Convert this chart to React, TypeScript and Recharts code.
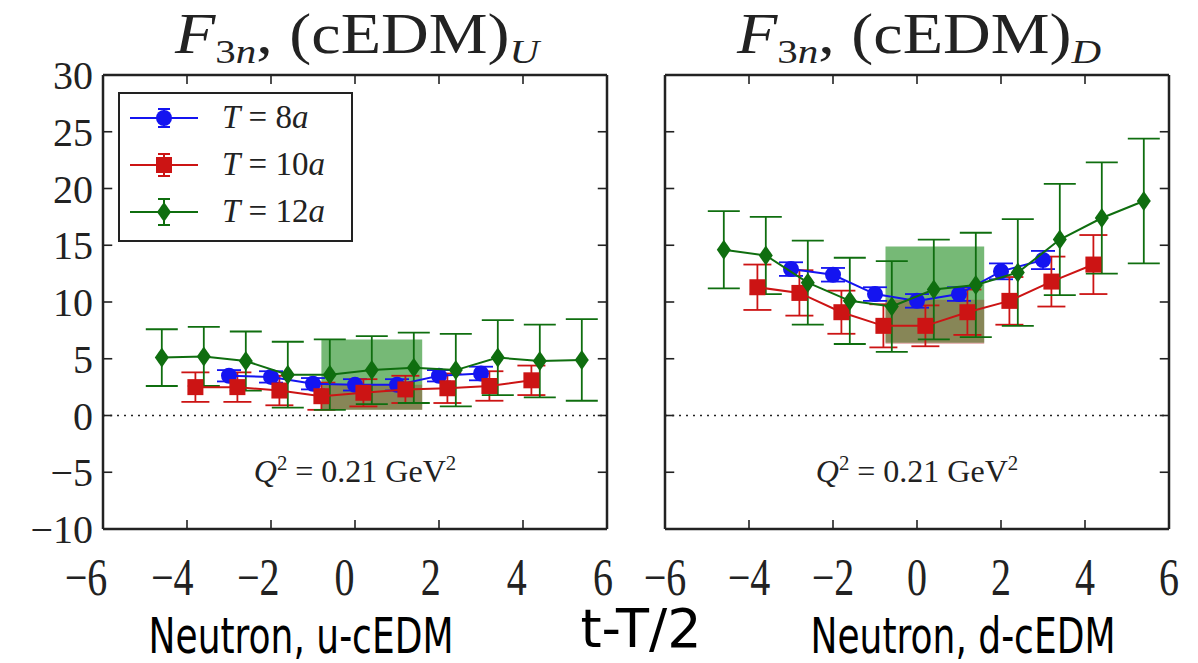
import React from 'react';
import {
  ComposedChart,
  Scatter,
  ErrorBar,
  XAxis,
  YAxis,
  ReferenceArea,
  ReferenceLine,
  Legend,
} from 'recharts';

const SERIF = '"Liberation Serif", "DejaVu Serif", serif';
const SANS = '"DejaVu Sans", sans-serif';
const INK = '#222';

const X_TICKS = [-6, -4, -2, 0, 2, 4, 6];
const Y_TICKS = [-10, -5, 0, 5, 10, 15, 20, 25, 30];

const LEGEND_T = ['8', '10', '12'];
const BLUE = '#1414f0';
const RED = '#cc1414';
const GREEN = '#0f6e0f';

// t - T/2 (T=10a and T=12a points are shifted by 0.2 / 0.4 in the plot)
const T8_X = [-3, -2, -1, 0, 1, 2, 3];
const T10_X = [-3.8, -2.8, -1.8, -0.8, 0.2, 1.2, 2.2, 3.2, 4.2];
const T12_X = [-4.6, -3.6, -2.6, -1.6, -0.6, 0.4, 1.4, 2.4, 3.4, 4.4, 5.4];

// Neutron, u-cEDM
const U_T8 = [3.5, 3.4, 2.8, 2.7, 2.7, 3.5, 3.7];
const U_T8_ERR = [0.5, 0.5, 0.5, 0.5, 0.5, 0.5, 0.6];
const U_T10 = [2.5, 2.5, 2.2, 1.7, 2.0, 2.3, 2.4, 2.6, 3.1];
const U_T10_ERR = [1.3, 1.3, 1.3, 1.2, 1.2, 1.2, 1.3, 1.3, 1.3];
const U_T12 = [5.1, 5.2, 4.8, 3.6, 3.6, 4.0, 4.2, 4.0, 5.1, 4.8, 4.9];
const U_T12_ERR = [2.5, 2.6, 2.6, 2.9, 3.1, 3.0, 3.1, 3.2, 3.3, 3.2, 3.6];
// fit bands: [x1, x2, y1, y2]
const U_BAND_T12 = [-0.8, 1.6, 0.5, 6.7];
const U_BAND_T10 = [-0.8, 1.6, 0.5, 2.7];

// Neutron, d-cEDM
const D_T8 = [12.9, 12.4, 10.7, 10.1, 10.7, 12.7, 13.7];
const D_T8_ERR = [0.6, 0.6, 0.6, 0.6, 0.6, 0.7, 0.8];
const D_T10 = [11.3, 10.8, 9.1, 7.9, 7.9, 9.1, 10.1, 11.8, 13.3];
const D_T10_ERR = [2.0, 2.0, 1.9, 1.9, 1.8, 2.0, 2.1, 2.2, 2.6];
const D_T12 = [14.6, 14.1, 11.7, 10.1, 9.6, 11.1, 11.5, 12.6, 15.5, 17.4, 18.9];
const D_T12_ERR = [3.4, 3.4, 3.7, 3.8, 4.0, 4.4, 4.6, 4.7, 4.9, 4.9, 5.5];
const D_BAND_T12 = [-0.75, 1.6, 6.4, 14.9];
const D_BAND_T10 = [-0.75, 1.6, 6.3, 10.2];

const X_MIN = -6;
const X_MAX = 6;
const Y_MIN = -10;
const Y_MAX = 30;
// inward tick length in data units (about 9px)
const XT_LEN = 0.8;
const YT_LEN = 0.22;

const rows = (xs: number[], ys: number[], es: number[]) =>
  xs.map((x, i) => ({ x, y: ys[i], err: es[i] }));

const fmt = (v: number) => (v < 0 ? `\u2212${-v}` : `${v}`);

const Marker = ({ kind, cx, cy, color }: any) => {
  if (kind === 'circle') return <circle cx={cx} cy={cy} r={8} fill={color} />;
  if (kind === 'square') return <rect x={cx - 8} y={cy - 8} width={16} height={16} fill={color} />;
  return (
    <polygon
      points={`${cx},${cy - 10} ${cx + 7},${cy} ${cx},${cy + 10} ${cx - 7},${cy}`}
      fill={color}
    />
  );
};

const BottomTick = (props: any) => {
  const { x, y, payload, shift } = props;
  const v = payload.value;
  const dx = shift ? -17 + ((v + 6) * 13) / 12 : 0;
  return (
    <g transform={`translate(${x + dx},${y})`}>
      <text transform="scale(1,1.3)" x={0} y={51} textAnchor="middle" fontFamily={SERIF} fontSize={40} fill={INK}>
        {fmt(v)}
      </text>
    </g>
  );
};

const LeftTick = (props: any) => {
  const { x, y, payload, labels } = props;
  if (!labels) return <g />;
  return (
    <text x={x - 10} y={y} dy="0.35em" textAnchor="end" fontFamily={SERIF} fontSize={40} fill={INK}>
      {fmt(payload.value)}
    </text>
  );
};

const LegendBox = () => {
  const items = [
    { kind: 'circle', color: BLUE, err: 9 },
    { kind: 'square', color: RED, err: 11 },
    { kind: 'diamond', color: GREEN, err: 13 },
  ];
  return (
    <div
      style={{
        boxSizing: 'border-box',
        width: 235,
        height: 150,
        border: `2.5px solid ${INK}`,
        background: '#fff',
      }}
    >
      {items.map((it, i) => (
        <div key={i} style={{ height: 47, display: 'flex', alignItems: 'center', paddingLeft: 10 }}>
          <svg width={68} height={40}>
            <line x1={0} x2={68} y1={20} y2={20} stroke={it.color} strokeWidth={2} />
            <line x1={34} x2={34} y1={20 - it.err} y2={20 + it.err} stroke={it.color} strokeWidth={2} />
            <line x1={28} x2={40} y1={20 - it.err} y2={20 - it.err} stroke={it.color} strokeWidth={2} />
            <line x1={28} x2={40} y1={20 + it.err} y2={20 + it.err} stroke={it.color} strokeWidth={2} />
            <Marker kind={it.kind} cx={34} cy={20} color={it.color} />
          </svg>
          <span style={{ marginLeft: 24, fontFamily: SERIF, fontSize: 33, color: INK, lineHeight: 1 }}>
            <i>T</i> = {LEGEND_T[i]}<i>a</i>
          </span>
        </div>
      ))}
    </div>
  );
};

const frame = { stroke: INK, strokeWidth: 2.5 };

// inward frame ticks as short reference segments on all four sides
const tickSegments = () => {
  const segs: any[] = [];
  X_TICKS.filter((v) => v > X_MIN && v < X_MAX).forEach((v) => {
    segs.push([{ x: v, y: Y_MIN }, { x: v, y: Y_MIN + XT_LEN }]);
    segs.push([{ x: v, y: Y_MAX }, { x: v, y: Y_MAX - XT_LEN }]);
  });
  Y_TICKS.filter((v) => v > Y_MIN && v < Y_MAX).forEach((v) => {
    segs.push([{ x: X_MIN, y: v }, { x: X_MIN + YT_LEN, y: v }]);
    segs.push([{ x: X_MAX, y: v }, { x: X_MAX - YT_LEN, y: v }]);
  });
  return segs;
};

function Panel(props: any) {
  const { left, width, margin, t8, t10, t12, bandT12, bandT10, yLabels, shift, legend } = props;
  return (
    <div style={{ position: 'absolute', left, top: 0 }}>
      <ComposedChart width={width} height={663} margin={margin}>
        <XAxis
          xAxisId="main"
          type="number"
          dataKey="x"
          domain={[X_MIN, X_MAX]}
          ticks={X_TICKS}
          interval={0}
          allowDataOverflow
          height={40}
          axisLine={frame}
          tickLine={false}
          tickSize={0}
          tickMargin={0}
          tick={<BottomTick shift={shift} />}
        />
        <XAxis
          xAxisId="top"
          type="number"
          orientation="top"
          domain={[X_MIN, X_MAX]}
          allowDataOverflow
          height={1}
          axisLine={frame}
          tickLine={false}
          tick={false}
        />
        <YAxis
          yAxisId="main"
          type="number"
          dataKey="y"
          domain={[Y_MIN, Y_MAX]}
          ticks={Y_TICKS}
          interval={0}
          allowDataOverflow
          width={yLabels ? 60 : 1}
          axisLine={frame}
          tickLine={false}
          tickSize={0}
          tickMargin={0}
          tick={<LeftTick labels={yLabels} />}
        />
        <YAxis
          yAxisId="right"
          type="number"
          orientation="right"
          domain={[Y_MIN, Y_MAX]}
          allowDataOverflow
          width={1}
          axisLine={frame}
          tickLine={false}
          tick={false}
        />
        <ReferenceArea
          xAxisId="main"
          yAxisId="main"
          x1={bandT12[0]}
          x2={bandT12[1]}
          y1={bandT12[2]}
          y2={bandT12[3]}
          fill="#1a8a1a"
          fillOpacity={0.6}
          stroke="none"
        />
        <ReferenceArea
          xAxisId="main"
          yAxisId="main"
          x1={bandT10[0]}
          x2={bandT10[1]}
          y1={bandT10[2]}
          y2={bandT10[3]}
          fill="#b01010"
          fillOpacity={0.3}
          stroke="none"
        />
        <ReferenceLine xAxisId="main" yAxisId="main" y={0} stroke={INK} strokeWidth={1.6} strokeDasharray="2 5" />
        {tickSegments().map((seg, i) => (
          <ReferenceLine
            key={`tk${i}`}
            xAxisId="main"
            yAxisId="main"
            segment={seg}
            stroke={INK}
            strokeWidth={1.6}
            ifOverflow="visible"
          />
        ))}
        <Scatter
          xAxisId="main"
          yAxisId="main"
          data={t8}
          isAnimationActive={false}
          line={{ stroke: BLUE, strokeWidth: 2 }}
          shape={(p: any) => <Marker kind="circle" cx={p.cx} cy={p.cy} color={BLUE} />}
        >
          <ErrorBar dataKey="err" direction="y" width={12} stroke={BLUE} strokeWidth={1.8} />
        </Scatter>
        <Scatter
          xAxisId="main"
          yAxisId="main"
          data={t10}
          isAnimationActive={false}
          line={{ stroke: RED, strokeWidth: 2 }}
          shape={(p: any) => <Marker kind="square" cx={p.cx} cy={p.cy} color={RED} />}
        >
          <ErrorBar dataKey="err" direction="y" width={14} stroke={RED} strokeWidth={1.8} />
        </Scatter>
        <Scatter
          xAxisId="main"
          yAxisId="main"
          data={t12}
          isAnimationActive={false}
          line={{ stroke: GREEN, strokeWidth: 2 }}
          shape={(p: any) => <Marker kind="diamond" cx={p.cx} cy={p.cy} color={GREEN} />}
        >
          <ErrorBar dataKey="err" direction="y" width={16} stroke={GREEN} strokeWidth={1.8} />
        </Scatter>
        {legend && (
          <Legend
            layout="vertical"
            align="center"
            verticalAlign="middle"
            content={<LegendBox />}
            wrapperStyle={{ left: 118, top: 92, width: 235, height: 150 }}
          />
        )}
      </ComposedChart>
    </div>
  );
}

const Title = ({ center, sub }: any) => (
  <div
    style={{
      position: 'absolute',
      left: center - 250,
      width: 500,
      top: 6,
      textAlign: 'center',
      fontFamily: SERIF,
      fontSize: 56,
      lineHeight: 1,
      color: INK,
      transform: 'scaleX(1.18)',
    }}
  >
    <i>F</i>
    <span style={{ fontSize: '0.62em', verticalAlign: '-0.3em' }}>
      3<i>n</i>
    </span>
    , (cEDM)
    <span style={{ fontSize: '0.62em', verticalAlign: '-0.3em' }}>
      <i>{sub}</i>
    </span>
  </div>
);

const QLabel = ({ center }: any) => (
  <div
    style={{
      position: 'absolute',
      left: center - 200,
      width: 400,
      top: 453,
      textAlign: 'center',
      fontFamily: SERIF,
      fontSize: 32,
      lineHeight: 1,
      color: INK,
    }}
  >
    <i>Q</i>
    <sup style={{ fontSize: '0.65em', verticalAlign: '0.6em' }}>2</sup> = 0.21 GeV
    <sup style={{ fontSize: '0.65em', verticalAlign: '0.6em' }}>2</sup>
  </div>
);

const Caption = ({ center, children }: any) => (
  <div
    style={{
      position: 'absolute',
      left: center - 250,
      width: 500,
      top: 623,
      textAlign: 'center',
      fontFamily: SANS,
      fontSize: 36,
      lineHeight: 1,
      color: '#000',
      transform: 'scaleY(1.38)',
      transformOrigin: '50% 85%',
    }}
  >
    {children}
  </div>
);

export default function App() {
  return (
    <div style={{ position: 'absolute', left: 0, top: 0, width: 1198, height: 663, background: '#fff', overflow: 'hidden' }}>
      <Panel
        left={0}
        width={640}
        margin={{ top: 74, right: 32, left: 43, bottom: 94 }}
        t8={rows(T8_X, U_T8, U_T8_ERR)}
        t10={rows(T10_X, U_T10, U_T10_ERR)}
        t12={rows(T12_X, U_T12, U_T12_ERR)}
        bandT12={U_BAND_T12}
        bandT10={U_BAND_T10}
        yLabels
        shift
        legend
      />
      <Panel
        left={640}
        width={558}
        margin={{ top: 74, right: 28, left: 24, bottom: 94 }}
        t8={rows(T8_X, D_T8, D_T8_ERR)}
        t10={rows(T10_X, D_T10, D_T10_ERR)}
        t12={rows(T12_X, D_T12, D_T12_ERR)}
        bandT12={D_BAND_T12}
        bandT10={D_BAND_T10}
        yLabels={false}
        shift={false}
        legend={false}
      />
      <Title center={357} sub="U" />
      <Title center={919} sub="D" />
      <QLabel center={355} />
      <QLabel center={917} />
      <div
        style={{
          position: 'absolute',
          left: 441,
          width: 400,
          top: 602,
          textAlign: 'center',
          fontFamily: SANS,
          fontSize: 54,
          lineHeight: 1,
          color: '#000',
        }}
      >
        t-T/2
      </div>
      <Caption center={301}>Neutron, u-cEDM</Caption>
      <Caption center={963}>Neutron, d-cEDM</Caption>
    </div>
  );
}
